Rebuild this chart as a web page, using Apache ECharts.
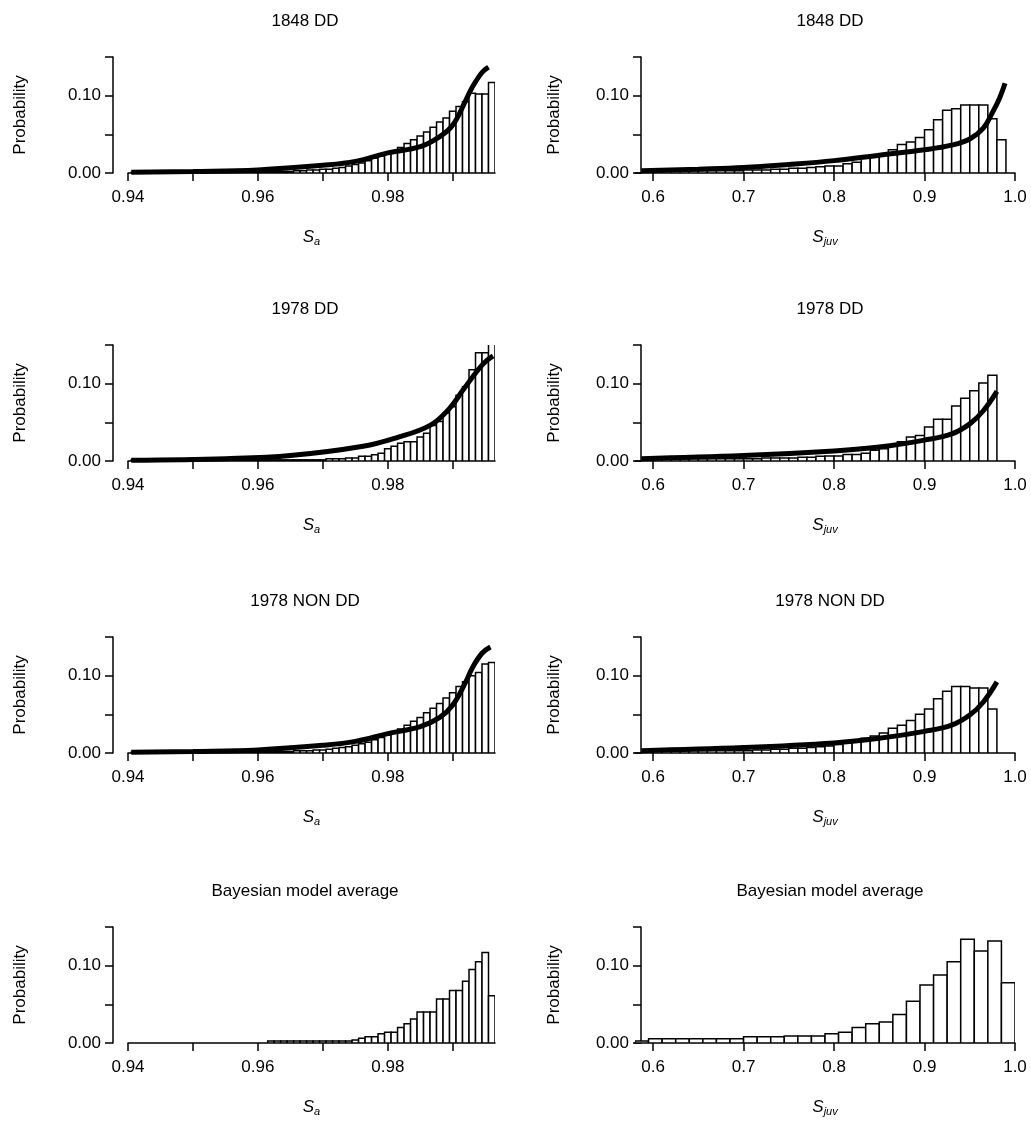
<!DOCTYPE html>
<html>
<head>
<meta charset="utf-8">
<script src="https://cdn.jsdelivr.net/npm/echarts@6/dist/echarts.min.js"></script>
<style>html,body{margin:0;padding:0;background:#fff}#main{width:1031px;height:1126px}</style>
</head>
<body>
<div id="main"></div>
<script>
// panel titles
var titles = ['1848 DD', '1978 DD', '1978 NON DD', 'Bayesian model average'];

// adult survival (S_a) histograms, bin width 0.001
var saStart = [0.9405, 0.9405, 0.9405, 0.9615];
var saWidth = 0.001;
var sa1848 = [
    0.001,0.001,0.001,0.001,0.001,0.001,0.001,0.001,0.001,0.001,0.001,0.001,0.001,0.001,0.001,
    0.002,0.002,0.002,0.002,0.002,0.002,0.002,0.002,0.002,0.002,
    0.003,0.003,0.004,0.004,0.005,0.005,0.006,0.007,0.009,0.011,
    0.013,0.016,0.019,0.022,0.025,0.028,
    0.033,0.038,0.043,0.048,0.053,0.059,0.066,0.071,0.080,0.086,0.092,0.103,0.102,0.102,0.117
];
var sa1978 = [
    0.0015,0.0015,0.0015,0.0015,0.0015,0.0015,0.0015,0.0015,0.0015,0.0015,
    0.0015,0.0015,0.0015,0.0015,0.0015,0.0015,0.0015,0.0015,0.0015,0.0015,
    0.0015,0.0015,0.0015,0.0015,0.0015,0.0015,0.0015,0.0015,0.0015,0.0015,
    0.003,0.003,0.003,0.004,0.004,0.006,0.006,0.008,0.010,0.016,0.019,0.023,0.025,0.025,
    0.031,0.036,0.046,0.051,0.062,0.070,0.085,0.096,0.118,0.140,0.140,0.160
];
var sa1978non = [
    0.001,0.001,0.001,0.001,0.001,0.001,0.001,0.001,0.001,0.001,0.001,0.001,0.001,0.001,0.001,
    0.002,0.002,0.002,0.002,0.002,0.002,0.002,0.002,0.002,0.002,
    0.003,0.003,0.003,0.004,0.004,0.005,0.006,0.007,0.008,0.010,
    0.012,0.014,0.017,0.020,0.023,0.027,
    0.031,0.036,0.041,0.046,0.052,0.058,0.064,0.071,0.078,0.086,0.092,0.100,0.104,0.115,0.117
];
var saBma = [
    0.0025,0.0025,0.0025,0.0025,0.0025,0.0025,0.0025,0.0025,0.0025,0.0025,0.0025,0.0025,0.0025,
    0.004,0.006,0.008,0.008,0.012,0.014,0.014,0.020,0.025,0.031,
    0.040,0.040,0.040,0.057,0.057,0.068,0.068,0.080,0.095,0.105,0.117,0.061
];

// juvenile survival (S_juv) histograms
var sjStart = [0.59, 0.59, 0.59, 0.58];
var sjWidth = [0.01, 0.01, 0.01, 0.015];
var sj1848 = [
    0.003,0.003,0.003,0.003,0.003,0.003,0.003,0.003,0.003,0.003,
    0.003,0.004,0.004,0.004,0.005,0.005,0.006,0.006,0.007,0.008,
    0.009,0.009,0.012,0.014,0.019,0.022,0.025,0.030,0.037,0.040,
    0.046,0.056,0.069,0.081,0.083,0.088,0.088,0.088,0.070,0.043
];
var sj1978 = [
    0.003,0.003,0.003,0.003,0.003,0.003,0.003,0.003,0.003,0.003,0.003,0.003,0.003,
    0.004,0.004,0.004,0.004,0.005,0.005,0.006,0.0065,0.0065,0.0085,0.0085,0.010,0.014,
    0.016,0.019,0.025,0.031,0.033,0.044,0.054,0.054,0.071,0.081,0.091,0.101,0.111
];
var sj1978non = [
    0.003,0.003,0.003,0.003,0.003,0.003,0.003,0.003,0.003,0.003,0.003,0.003,
    0.004,0.004,0.005,0.005,0.006,0.006,0.007,0.008,0.009,0.011,0.013,0.016,0.019,0.022,
    0.026,0.032,0.036,0.042,0.050,0.057,0.070,0.080,0.086,0.086,0.084,0.084,0.057
];
var sjBma = [
    0.0025,0.0055,0.0055,0.0055,0.0055,0.0055,0.0055,0.0055,
    0.008,0.008,0.008,0.009,0.009,0.009,0.012,0.014,0.020,0.025,0.027,0.037,
    0.054,0.075,0.088,0.105,0.134,0.119,0.132,0.078
];

// posterior curves (x, probability)
var curveSa1848 = [[0.9405,0.001],[0.95,0.002],[0.96,0.004],[0.97,0.010],[0.975,0.015],[0.98,0.026],
    [0.985,0.034],[0.988,0.047],[0.990,0.062],[0.992,0.094],[0.993,0.111],[0.9945,0.130],[0.9955,0.137]];
var curveSa1978 = [[0.9405,0.001],[0.955,0.003],[0.965,0.007],[0.9762,0.019],[0.9813,0.030],
    [0.9865,0.046],[0.9895,0.068],[0.9916,0.092],[0.9946,0.125],[0.9962,0.136]];
var curveSa1978non = [[0.9405,0.001],[0.95,0.002],[0.96,0.004],[0.97,0.010],[0.975,0.015],[0.98,0.025],
    [0.985,0.034],[0.988,0.046],[0.990,0.062],[0.992,0.092],[0.993,0.110],[0.9945,0.129],[0.9958,0.137]];
var curveSj1848 = [[0.587,0.003],[0.65,0.005],[0.7,0.007],[0.75,0.011],[0.8,0.016],[0.85,0.023],
    [0.9,0.030],[0.93,0.036],[0.95,0.044],[0.965,0.058],[0.975,0.078],[0.983,0.097],[0.989,0.116]];
var curveSj1978 = [[0.587,0.003],[0.7,0.007],[0.8,0.013],[0.85,0.018],[0.9,0.027],[0.93,0.035],
    [0.95,0.048],[0.965,0.065],[0.98,0.090]];
var curveSj1978non = [[0.587,0.003],[0.7,0.007],[0.8,0.013],[0.85,0.019],[0.9,0.028],[0.93,0.036],
    [0.95,0.049],[0.965,0.066],[0.98,0.092]];

var saTicks = [0.94, 0.95, 0.96, 0.97, 0.98, 0.99];
var saLabels = [0.94, 0.96, 0.98];
var sjTicks = [0.6, 0.7, 0.8, 0.9, 1.0];
var yTicks = [0, 0.05, 0.10, 0.15];
var yLabels = [0, 0.10];

var panels = [
    {title: 0, hist: sa1848, start: saStart[0], width: saWidth, curve: curveSa1848},
    {title: 0, hist: sj1848, start: sjStart[0], width: sjWidth[0], curve: curveSj1848},
    {title: 1, hist: sa1978, start: saStart[1], width: saWidth, curve: curveSa1978},
    {title: 1, hist: sj1978, start: sjStart[1], width: sjWidth[1], curve: curveSj1978},
    {title: 2, hist: sa1978non, start: saStart[2], width: saWidth, curve: curveSa1978non},
    {title: 2, hist: sj1978non, start: sjStart[2], width: sjWidth[2], curve: curveSj1978non},
    {title: 3, hist: saBma, start: saStart[3], width: saWidth, curve: null},
    {title: 3, hist: sjBma, start: sjStart[3], width: sjWidth[3], curve: null}
];

var rowTop = [57, 345, 637, 927];
var FONT = 'Liberation Sans, Arial, sans-serif';

var grids = [], xAxes = [], yAxes = [], series = [], titleOpts = [];
panels.forEach(function(p, i) {
    var row = Math.floor(i / 2), left = i % 2 === 0;
    var g = left ? {left: 128, width: 367} : {left: 635, width: 380};
    g.top = rowTop[row];
    g.height = 116;
    grids.push(g);

    titleOpts.push({
        text: titles[p.title],
        left: left ? 300 : 825,
        top: rowTop[row] - 49,
        textAlign: 'center',
        textStyle: {fontFamily: FONT, fontSize: 17, fontWeight: 'normal', color: '#000'}
    });

    xAxes.push({
        gridIndex: i, type: 'value',
        min: left ? 0.94 : 0.58, max: left ? 0.9965 : 1.0,
        offset: 3,
        splitLine: {show: false},
        axisLine: {lineStyle: {color: '#000', width: 1.5}},
        axisTick: {length: 8, lineStyle: {color: '#000', width: 1.5},
            customValues: left ? saTicks : sjTicks},
        axisLabel: {color: '#000', fontFamily: FONT, fontSize: 17, margin: 13,
            customValues: left ? saLabels : sjTicks,
            formatter: function(v) { return left ? v.toFixed(2) : v.toFixed(1); }},
        name: left ? '{i|S}{s|a}' : '{i|S}{s|juv}',
        nameLocation: 'middle', nameGap: 52,
        nameTextStyle: {rich: {
            i: {fontFamily: FONT, fontSize: 17, fontStyle: 'italic', color: '#000'},
            s: {fontFamily: FONT, fontSize: 11, fontStyle: 'italic', color: '#000', verticalAlign: 'bottom', padding: [8, 0, 0, 0]}
        }}
    });
    yAxes.push({
        gridIndex: i, type: 'value', min: 0, max: 0.15,
        offset: left ? 15 : -6,
        splitLine: {show: false},
        axisLine: {show: true, lineStyle: {color: '#000', width: 1.5}},
        axisTick: {show: true, length: 8, lineStyle: {color: '#000', width: 1.5}, customValues: yTicks},
        axisLabel: {color: '#000', fontFamily: FONT, fontSize: 17, margin: 12,
            customValues: yLabels, formatter: function(v) { return v.toFixed(2); }},
        name: 'Probability', nameLocation: 'middle', nameGap: left ? 84 : 78,
        nameTextStyle: {color: '#000', fontFamily: FONT, fontSize: 17}
    });

    var data = p.hist.map(function(v, k) {
        return [p.start + k * p.width, p.start + (k + 1) * p.width, v];
    });
    series.push({
        type: 'custom', xAxisIndex: i, yAxisIndex: i, clip: true, data: data,
        renderItem: function(params, api) {
            var a = api.coord([api.value(0), api.value(2)]);
            var b = api.coord([api.value(1), 0]);
            return {type: 'rect', shape: {x: a[0], y: a[1], width: b[0] - a[0], height: b[1] - a[1]},
                style: {fill: '#fff', stroke: '#000', lineWidth: 1.5}};
        }
    });
    if (p.curve) {
        series.push({
            type: 'line', xAxisIndex: i, yAxisIndex: i, data: p.curve, smooth: 0.4,
            showSymbol: false, lineStyle: {color: '#000', width: 5}, z: 5
        });
    }
});

var chart = echarts.init(document.getElementById('main'));
chart.setOption({
    animation: false,
    backgroundColor: '#fff',
    title: titleOpts,
    grid: grids,
    xAxis: xAxes,
    yAxis: yAxes,
    series: series
});
</script>
</body>
</html>
